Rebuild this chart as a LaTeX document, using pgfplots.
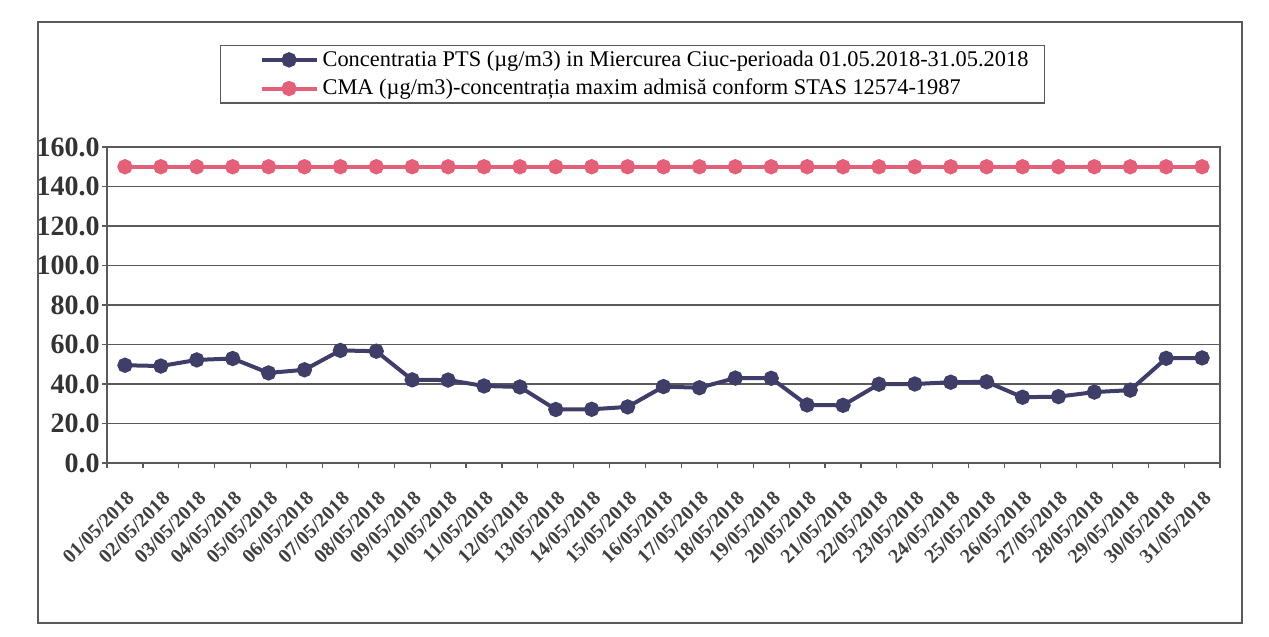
\documentclass[border=0pt]{standalone}
\usepackage{pgfplots}
\pgfplotsset{compat=1.18}
\usepackage{fontspec}
\setmainfont{Liberation Serif}
\definecolor{pts}{RGB}{62,62,104}
\definecolor{cma}{RGB}{228,96,120}
\definecolor{gridc}{RGB}{90,90,90}
\begin{document}
\begin{tikzpicture}
\begin{axis}[
  width=556.5pt, height=158pt, scale only axis,
  clip=false,
  xmin=0.5, xmax=31.5, ymin=0, ymax=160,
  xtick={1,...,31},
  xticklabels={01/05/2018,02/05/2018,03/05/2018,04/05/2018,05/05/2018,06/05/2018,07/05/2018,08/05/2018,09/05/2018,10/05/2018,11/05/2018,12/05/2018,13/05/2018,14/05/2018,15/05/2018,16/05/2018,17/05/2018,18/05/2018,19/05/2018,20/05/2018,21/05/2018,22/05/2018,23/05/2018,24/05/2018,25/05/2018,26/05/2018,27/05/2018,28/05/2018,29/05/2018,30/05/2018,31/05/2018},
  minor xtick={0.5,1.5,...,31.5},
  major x tick style={draw=none},
  minor x tick style={gridc, line width=0.6pt},
  minor tick length=2.5pt,
  major tick length=2.5pt,
  tick align=outside,
  tick pos=left,
  ytick={0,20,...,160},
  ymajorgrids,
  grid style={gridc, line width=0.6pt},
  axis line style={gridc, line width=0.7pt},
  y tick style={gridc, line width=0.6pt},
  /pgf/number format/assume math mode=true,
  yticklabel={\pgfmathprintnumber[fixed,fixed zerofill,precision=1]{\tick}},
  yticklabel style={font=\bfseries\fontsize{14}{16}\selectfont, text=black!80, inner xsep=1pt},
  xticklabel style={font=\bfseries\fontsize{10}{11}\selectfont, text=black!75, rotate=45, anchor=north east, inner sep=1pt, xshift=-6.5pt, yshift=-7pt},
  legend style={at={(0.1015,1.3228)}, anchor=north west, draw=gridc, line width=0.6pt, fill=white,
    font=\fontsize{11.2}{12.5}\selectfont, row sep=1pt, inner xsep=6pt, inner ysep=0.5pt},
  legend cell align=left,
  legend image code/.code={\path (-13.5pt,0pt); \draw[mark repeat=2,mark phase=2] plot coordinates {(0pt,0pt) (13.75pt,0pt) (27.5pt,0pt)};},
]
\path (rel axis cs:-0.09614,-0.55063) rectangle (rel axis cs:1.04402,1.46519);
\draw[gridc, line width=0.7pt] (rel axis cs:-0.0620,-0.5063) rectangle (rel axis cs:1.0198,1.3956);
\addplot[pts, line width=2pt, mark=*, mark size=2.8pt] coordinates {
(1,49.5) (2,49.1) (3,52.2) (4,52.9) (5,45.6) (6,47.2) (7,57.0) (8,56.6) (9,42.1) (10,42.0)
(11,39.0) (12,38.5) (13,27.1) (14,27.2) (15,28.4) (16,38.7) (17,38.1) (18,43.0) (19,42.9) (20,29.4)
(21,29.2) (22,39.9) (23,40.0) (24,40.9) (25,41.1) (26,33.3) (27,33.6) (28,35.9) (29,36.9) (30,53.0) (31,53.2)};
\addlegendentry{Concentratia PTS (µg/m3) in Miercurea Ciuc-perioada 01.05.2018-31.05.2018}
\addplot[cma, line width=2pt, mark=*, mark size=2.8pt] coordinates {
(1,150) (2,150) (3,150) (4,150) (5,150) (6,150) (7,150) (8,150) (9,150) (10,150)
(11,150) (12,150) (13,150) (14,150) (15,150) (16,150) (17,150) (18,150) (19,150) (20,150)
(21,150) (22,150) (23,150) (24,150) (25,150) (26,150) (27,150) (28,150) (29,150) (30,150) (31,150)};
\addlegendentry{CMA (µg/m3)-concentrația maxim admisă conform STAS 12574-1987}
\end{axis}
\end{tikzpicture}
\end{document}
